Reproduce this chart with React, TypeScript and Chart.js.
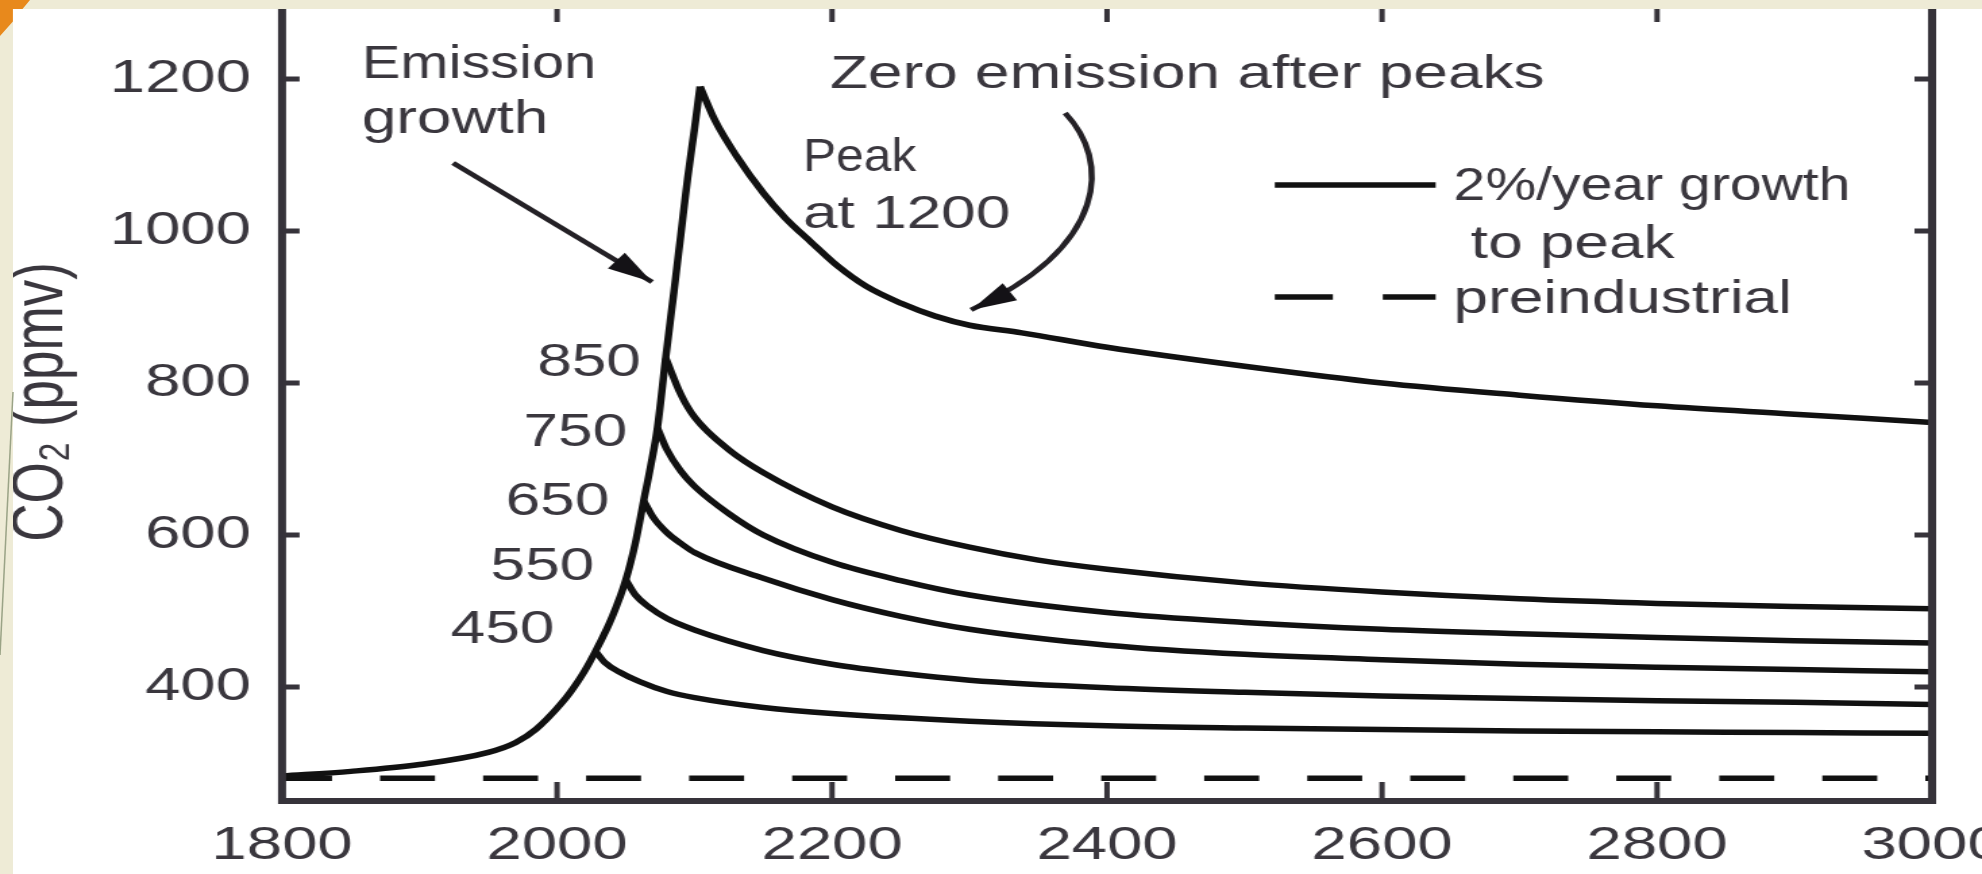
import React, { useEffect, useRef } from 'react';
import { Chart, registerables } from 'chart.js';

Chart.register(...registerables);

const PAGE_W = 1982;
const PAGE_H = 874;
const CANVAS_W = 1468;
const STRETCH = PAGE_W / CANVAS_W;

const FONT = '"Liberation Sans", Arial, sans-serif';
const TEXT_COLOR = '#3a373e';
const LINE_COLOR = '#111111';
const AXIS_COLOR = '#36333a';

// ---- axis ticks ----
const xTickValues = [1800, 2000, 2200, 2400, 2600, 2800, 3000];
const yTickValues = [400, 600, 800, 1000, 1200];

// ---- emission growth (2%/year) up to the 1200 peak ----
const growthYears = [1800, 1850, 1900, 1950, 1970, 1985, 2000, 2010, 2020, 2028, 2040, 2050, 2057, 2063, 2068, 2073, 2079, 2085, 2090, 2095, 2100, 2104];
const growthValues = [283, 289, 298, 314, 327, 345, 372, 394, 421, 447, 492, 541, 590, 645, 690, 741, 833, 920, 995, 1070, 1135, 1190];

// ---- zero emission after each peak ----
const decay450Years = [2028, 2035, 2045, 2060, 2080, 2100, 2150, 2200, 2300, 2400, 2500, 2600, 2700, 2800, 2900, 3000];
const decay450Values = [447, 432, 420, 407, 394, 386, 373, 365, 355, 349, 346, 344, 342, 341, 340, 339];

const decay550Years = [2050, 2057, 2067, 2080, 2100, 2150, 2200, 2250, 2300, 2400, 2500, 2600, 2700, 2800, 2900, 3000];
const decay550Values = [541, 521, 505, 490, 475, 448, 430, 418, 409, 399, 393, 388, 385, 382, 380, 377];

const decay650Years = [2063, 2070, 2080, 2090, 2100, 2150, 2200, 2250, 2300, 2400, 2500, 2600, 2700, 2800, 2900, 3000];
const decay650Values = [645, 623, 603, 589, 577, 543, 515, 493, 476, 455, 443, 436, 430, 426, 423, 420];

const decay750Years = [2073, 2080, 2090, 2100, 2125, 2150, 2200, 2250, 2300, 2400, 2500, 2600, 2700, 2800, 2900, 3000];
const decay750Values = [741, 712, 684, 664, 628, 600, 564, 540, 521, 498, 485, 476, 470, 465, 461, 458];

const decay850Years = [2079, 2090, 2100, 2125, 2150, 2200, 2250, 2300, 2350, 2400, 2500, 2600, 2700, 2800, 2900, 3000];
const decay850Values = [833, 785, 755, 712, 682, 637, 606, 584, 567, 555, 537, 525, 516, 510, 506, 503];

const decay1200Years = [2104, 2115, 2130, 2150, 2166, 2185, 2204, 2225, 2250, 2275, 2300, 2338, 2400, 2500, 2600, 2700, 2800, 2900, 3000];
const decay1200Values = [1190, 1145, 1100, 1050, 1017, 985, 954, 927, 905, 888, 876, 866, 847, 822, 800, 784, 770, 759, 748];

// ---- preindustrial level ----
const preindustrialYears = [1800, 3000];
const preindustrialValues = [280, 280];

// ---- annotations (anchored in data units: year, ppmv) ----
const noteTexts = ['Emission', 'growth', 'Peak', 'at 1200', 'Zero emission after peaks'];
const noteYears = [1858, 1858, 2178.9, 2178.9, 2198.5];
const noteValues = [1201, 1129, 1079, 1004, 1188];

const peakTexts = ['850', '750', '650', '550', '450'];
const peakTextYears = [2061, 2051, 2038, 2027, 1998];
const peakTextValues = [809, 717, 626, 541, 458];

const legendTexts = ['2%/year growth', ' to peak', 'preindustrial'];
const legendTextYear = 2652;
const legendTextValues = [1041, 964.5, 892];
const legendLineYears = [2522, 2639];
const legendSolidValue = 1060.5;
const legendDashValue = 913;

const emissionArrowYears = [1924.4, 2069.1];
const emissionArrowValues = [1089.5, 932.9];
const zeroArrowYears = [2369.5, 2402.2, 2402.2, 2301.1];
const zeroArrowValues = [1155.3, 1093.4, 981.6, 896.1];

function pts(xa: number[], ya: number[]) {
  return xa.map((x, i) => ({ x, y: ya[i] }));
}

function arrowHead(ctx: CanvasRenderingContext2D, tx: number, ty: number, fx: number, fy: number, len: number, half: number) {
  const a = Math.atan2(ty - fy, tx - fx);
  const bx = tx - len * Math.cos(a);
  const by = ty - len * Math.sin(a);
  ctx.beginPath();
  ctx.moveTo(tx, ty);
  ctx.lineTo(bx + half * Math.sin(a), by - half * Math.cos(a));
  ctx.lineTo(bx - half * Math.sin(a), by + half * Math.cos(a));
  ctx.closePath();
  ctx.fill();
}

const overlayPlugin = {
  id: 'overlay',
  afterDraw(chart: any) {
    const { ctx, chartArea } = chart;
    const xs = chart.scales.x;
    const ys = chart.scales.y;
    const { left, right, top, bottom } = chartArea;
    const X = (v: number) => xs.getPixelForValue(v);
    const Y = (v: number) => ys.getPixelForValue(v);
    ctx.save();

    // frame
    ctx.strokeStyle = AXIS_COLOR;
    ctx.lineWidth = 6;
    ctx.setLineDash([]);
    ctx.strokeRect(left, top, right - left, bottom - top);

    // inward ticks
    ctx.lineWidth = 4;
    for (const t of xTickValues) {
      const px = X(t);
      ctx.beginPath();
      ctx.moveTo(px, bottom);
      ctx.lineTo(px, bottom - 19);
      ctx.moveTo(px, top);
      ctx.lineTo(px, top + 19);
      ctx.stroke();
    }
    ctx.lineWidth = 5;
    for (const t of yTickValues) {
      const py = Y(t);
      ctx.beginPath();
      ctx.moveTo(left, py);
      ctx.lineTo(left + 13, py);
      ctx.moveTo(right, py);
      ctx.lineTo(right - 13, py);
      ctx.stroke();
    }

    // annotation text
    ctx.fillStyle = TEXT_COLOR;
    ctx.font = `46px ${FONT}`;
    ctx.textBaseline = 'alphabetic';
    ctx.textAlign = 'left';
    noteTexts.forEach((t, i) => {
      const w = ctx.measureText(t).width;
      const maxW = t === 'Peak' ? w * 0.8 : t === 'Emission' ? w * 0.93 : w;
      ctx.fillText(t, X(noteYears[i]), Y(noteValues[i]), maxW);
    });
    ctx.textAlign = 'right';
    peakTexts.forEach((t, i) => ctx.fillText(t, X(peakTextYears[i]), Y(peakTextValues[i])));
    ctx.textAlign = 'left';
    legendTexts.forEach((t, i) => {
      const w = ctx.measureText(t).width;
      const maxW = i === 0 ? w * 0.92 : w;
      ctx.fillText(t, X(legendTextYear), Y(legendTextValues[i]), maxW);
    });

    // legend samples
    ctx.strokeStyle = LINE_COLOR;
    ctx.lineWidth = 5.5;
    ctx.beginPath();
    ctx.moveTo(X(legendLineYears[0]), Y(legendSolidValue));
    ctx.lineTo(X(legendLineYears[1]), Y(legendSolidValue));
    ctx.stroke();
    ctx.setLineDash([43, 37]);
    ctx.beginPath();
    ctx.moveTo(X(legendLineYears[0]), Y(legendDashValue));
    ctx.lineTo(X(legendLineYears[1]), Y(legendDashValue));
    ctx.stroke();
    ctx.setLineDash([]);

    // arrows
    ctx.strokeStyle = '#242126';
    ctx.fillStyle = '#141216';
    ctx.lineWidth = 4.5;
    const ax0 = X(emissionArrowYears[0]), ay0 = Y(emissionArrowValues[0]);
    const ax1 = X(emissionArrowYears[1]), ay1 = Y(emissionArrowValues[1]);
    ctx.beginPath();
    ctx.moveTo(ax0, ay0);
    ctx.lineTo(ax1, ay1);
    ctx.stroke();
    arrowHead(ctx, ax1, ay1, ax0, ay0, 34, 10);

    const zx = zeroArrowYears.map(X);
    const zy = zeroArrowValues.map(Y);
    ctx.beginPath();
    ctx.moveTo(zx[0], zy[0]);
    ctx.bezierCurveTo(zx[1], zy[1], zx[2], zy[2], zx[3], zy[3]);
    ctx.stroke();
    arrowHead(ctx, zx[3], zy[3], zx[2], zy[2], 34, 10);

    ctx.restore();
  },
};

export default function App() {
  const ref = useRef<HTMLCanvasElement>(null);

  useEffect(() => {
    const canvas = ref.current;
    if (!canvas) return;
    const lineBase = {
      borderColor: LINE_COLOR,
      borderWidth: 5.5,
      pointRadius: 0,
      fill: false,
      cubicInterpolationMode: 'monotone' as const,
    };
    const chart = new Chart(canvas, {
      type: 'line',
      data: {
        datasets: [
          { ...lineBase, label: '2%/year growth to peak', data: pts(growthYears, growthValues) },
          { ...lineBase, label: '450', data: pts(decay450Years, decay450Values) },
          { ...lineBase, label: '550', data: pts(decay550Years, decay550Values) },
          { ...lineBase, label: '650', data: pts(decay650Years, decay650Values) },
          { ...lineBase, label: '750', data: pts(decay750Years, decay750Values) },
          { ...lineBase, label: '850', data: pts(decay850Years, decay850Values) },
          { ...lineBase, label: '1200', data: pts(decay1200Years, decay1200Values) },
          {
            ...lineBase,
            label: 'preindustrial',
            data: pts(preindustrialYears, preindustrialValues),
            borderWidth: 5.5,
            borderDash: [40.7, 35.6],
            borderDashOffset: 3.7,
          },
        ],
      },
      options: {
        animation: false,
        responsive: false,
        events: [],
        layout: { padding: { top: 3, right: 37, left: 0, bottom: 0 } },
        plugins: { legend: { display: false }, tooltip: { enabled: false } },
        scales: {
          x: {
            type: 'linear',
            min: 1800,
            max: 3000,
            afterBuildTicks: (s: any) => {
              s.ticks = xTickValues.map((v) => ({ value: v }));
            },
            afterFit: (s: any) => {
              s.height = 73;
              s.paddingLeft = 0;
              s.paddingRight = 0;
            },
            grid: { display: false, drawTicks: false },
            border: { display: false },
            ticks: {
              font: { size: 47, family: FONT },
              color: TEXT_COLOR,
              padding: 17,
              maxRotation: 0,
              autoSkip: false,
              callback: (v: any) => String(v),
            },
          },
          y: {
            type: 'linear',
            min: 250,
            max: 1300,
            afterBuildTicks: (s: any) => {
              s.ticks = yTickValues.map((v) => ({ value: v }));
            },
            afterFit: (s: any) => {
              s.width = 208.9;
              s.paddingTop = 0;
              s.paddingBottom = 0;
            },
            grid: { display: false, drawTicks: false },
            border: { display: false },
            ticks: {
              font: { size: 47, family: FONT },
              color: TEXT_COLOR,
              padding: 23,
              callback: (v: any) => String(v),
            },
            title: {
              display: true,
              text: 'CO₂ (ppmv)',
              font: { size: 53, family: FONT },
              color: TEXT_COLOR,
              padding: 0,
            },
          },
        },
      },
      plugins: [overlayPlugin],
    } as any);
    return () => chart.destroy();
  }, []);

  return (
    <div style={{ position: 'absolute', left: 0, top: 0, width: PAGE_W, height: PAGE_H, overflow: 'hidden', background: '#ffffff' }}>
      <div
        style={{
          position: 'absolute',
          left: 0,
          top: 0,
          width: CANVAS_W,
          height: PAGE_H,
          transform: `scaleX(${STRETCH})`,
          transformOrigin: '0 0',
        }}
      >
        <canvas ref={ref} width={CANVAS_W} height={PAGE_H} />
      </div>
      <div style={{ position: 'absolute', left: 0, top: 0, width: PAGE_W, height: 9, background: '#eeebd6', zIndex: 2 }} />
      <div style={{ position: 'absolute', left: 0, top: 0, width: 13, height: PAGE_H, background: '#eeebd6', zIndex: 2 }} />
      <div
        style={{
          position: 'absolute',
          left: 0,
          top: 0,
          width: 30,
          height: 36,
          background: '#e8891c',
          clipPath: 'polygon(0 0, 100% 0, 75% 25%, 43% 25%, 43% 60%, 0 100%)',
          zIndex: 3,
        }}
      />
      <svg style={{ position: 'absolute', left: 0, top: 0, zIndex: 3 }} width={14} height={PAGE_H}>
        <line x1={0} y1={655} x2={13} y2={392} stroke="#9aa386" strokeWidth={1.5} />
      </svg>
    </div>
  );
}
